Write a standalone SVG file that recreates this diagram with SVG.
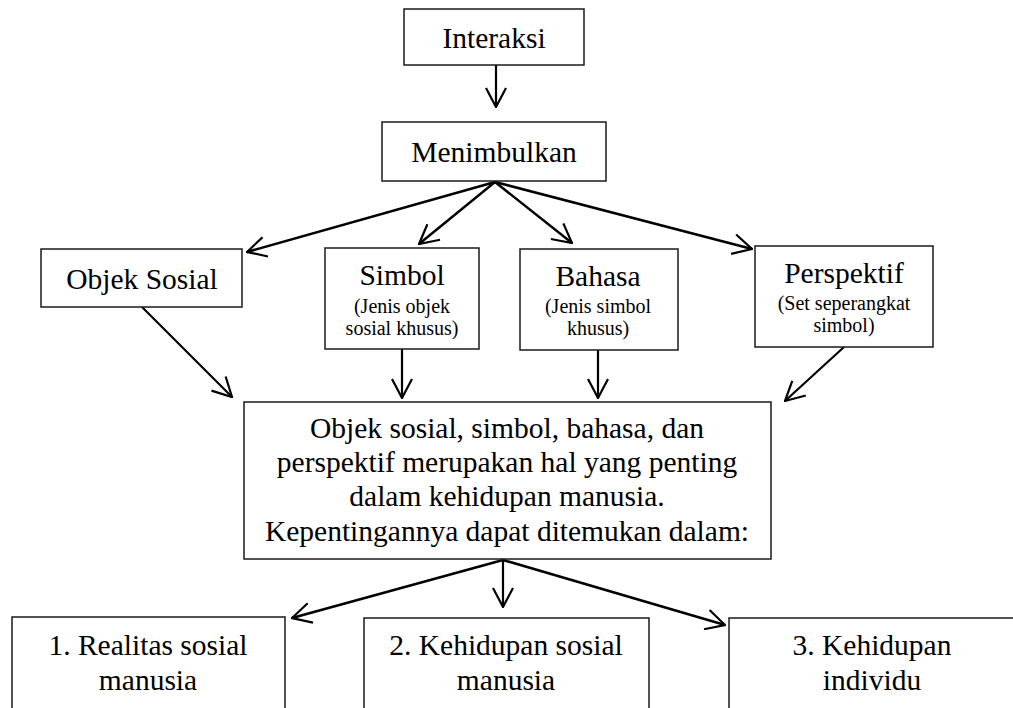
<svg xmlns="http://www.w3.org/2000/svg" width="1013" height="708" viewBox="0 0 1013 708">
<defs>
<style>
.box{fill:#fff;stroke:#1a1a1a;stroke-width:1.5}
.t{font-family:"Liberation Serif","Times New Roman",serif;font-size:29.5px;fill:#000;text-anchor:middle}
.s{font-family:"Liberation Serif","Times New Roman",serif;font-size:20px;fill:#000;text-anchor:middle}
.c{fill:none;stroke:#000;stroke-width:2.2;marker-end:url(#ah)}
</style>
<marker id="ah" viewBox="0 0 22 22" refX="21" refY="11" markerWidth="22" markerHeight="22" markerUnits="userSpaceOnUse" orient="auto">
<path d="M2,1 L21,11 L2,21" fill="none" stroke="#000" stroke-width="2.2"/>
</marker>
</defs>
<rect width="1013" height="708" fill="#fff"/>
<g id="connectors">
<line class="c" x1="496" y1="65" x2="496" y2="107"/>
<line class="c" x1="495" y1="182" x2="247" y2="252" style="stroke-width:2.6"/>
<line class="c" x1="495" y1="182" x2="419" y2="244" style="stroke-width:2.4"/>
<line class="c" x1="495" y1="182" x2="572" y2="243" style="stroke-width:2.4"/>
<line class="c" x1="495" y1="182" x2="752" y2="249" style="stroke-width:2.6"/>
<line class="c" x1="142" y1="307" x2="232" y2="397"/>
<line class="c" x1="402" y1="349" x2="402" y2="398"/>
<line class="c" x1="598" y1="350" x2="598" y2="398"/>
<line class="c" x1="844" y1="347" x2="785" y2="401"/>
<line class="c" x1="503" y1="560" x2="292" y2="618" style="stroke-width:2.6"/>
<line class="c" x1="503" y1="560" x2="503" y2="607"/>
<line class="c" x1="503" y1="560" x2="725" y2="625" style="stroke-width:2.6"/>
</g>
<g id="interaksi">
<rect class="box" x="404" y="9" width="180" height="56"/>
<text class="t" x="494" y="48">Interaksi</text>
</g>
<g id="menimbulkan">
<rect class="box" x="382" y="122" width="224" height="59"/>
<text class="t" x="494" y="162">Menimbulkan</text>
</g>
<g id="objek-sosial">
<rect class="box" x="41" y="249" width="201" height="58"/>
<text class="t" x="142" y="289">Objek Sosial</text>
</g>
<g id="simbol">
<rect class="box" x="325" y="248" width="154" height="101"/>
<text class="t" x="402" y="285">Simbol</text>
<text class="s" x="402" y="313">(Jenis objek</text>
<text class="s" x="402" y="335">sosial khusus)</text>
</g>
<g id="bahasa">
<rect class="box" x="520" y="249" width="158" height="101"/>
<text class="t" x="598" y="286">Bahasa</text>
<text class="s" x="598" y="313">(Jenis simbol</text>
<text class="s" x="598" y="335">khusus)</text>
</g>
<g id="perspektif">
<rect class="box" x="755" y="246" width="178" height="101"/>
<text class="t" x="844" y="283">Perspektif</text>
<text class="s" x="844" y="310">(Set seperangkat</text>
<text class="s" x="844" y="332">simbol)</text>
</g>
<g id="penting">
<rect class="box" x="244" y="402" width="527" height="157"/>
<text class="t" x="507" y="438">Objek sosial, simbol, bahasa, dan</text>
<text class="t" x="507" y="472">perspektif merupakan hal yang penting</text>
<text class="t" x="507" y="506">dalam kehidupan manusia.</text>
<text class="t" x="507" y="541">Kepentingannya dapat ditemukan dalam:</text>
</g>
<g id="realitas">
<rect class="box" x="12" y="617" width="273" height="100"/>
<text class="t" x="148" y="655">1. Realitas sosial</text>
<text class="t" x="148" y="690">manusia</text>
</g>
<g id="kehidupan-sosial">
<rect class="box" x="364" y="618" width="285" height="100"/>
<text class="t" x="506" y="655">2. Kehidupan sosial</text>
<text class="t" x="506" y="690">manusia</text>
</g>
<g id="kehidupan-individu">
<rect class="box" x="729" y="618" width="290" height="100"/>
<text class="t" x="872" y="655">3. Kehidupan</text>
<text class="t" x="872" y="690">individu</text>
</g>
</svg>
